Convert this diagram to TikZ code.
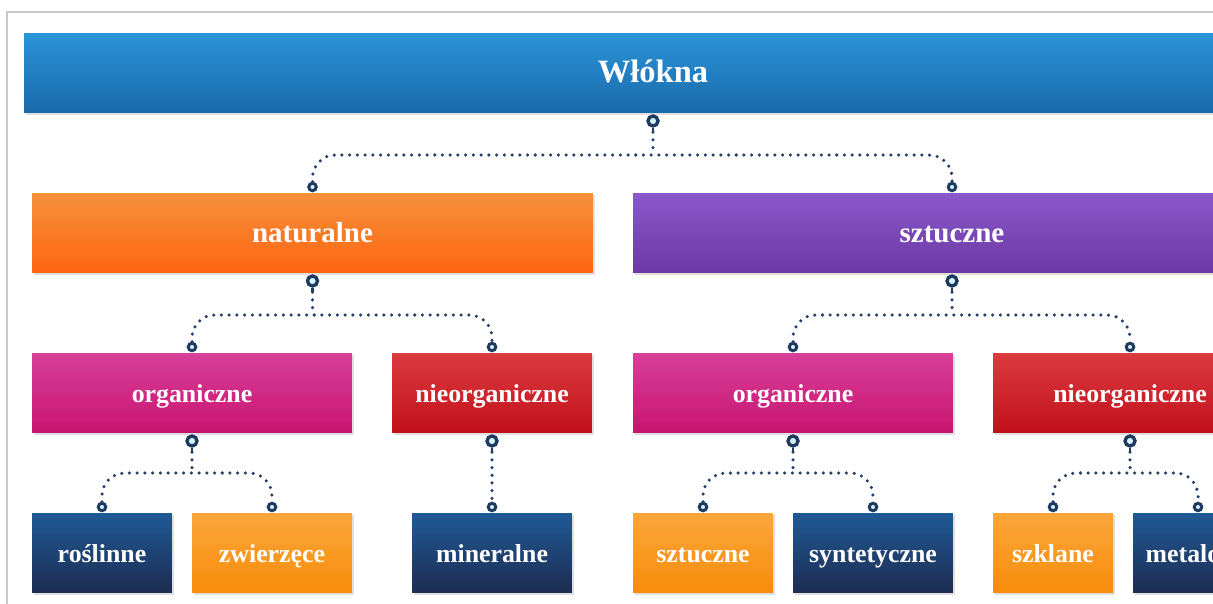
\documentclass[tikz,border=0pt]{standalone}
\usepackage{fontspec}
\setmainfont{Liberation Serif}
\usepackage{tikz}
\usetikzlibrary{shadows}

\definecolor{blueTop}{HTML}{2A94D8}
\definecolor{blueBot}{HTML}{1A6AAB}
\definecolor{orTop}{HTML}{F5913C}
\definecolor{orBot}{HTML}{FF6410}
\definecolor{puTop}{HTML}{8A58CA}
\definecolor{puBot}{HTML}{6C38A4}
\definecolor{mgTop}{HTML}{D8409A}
\definecolor{mgBot}{HTML}{C8146F}
\definecolor{rdTop}{HTML}{DA3C40}
\definecolor{rdBot}{HTML}{C2101A}
\definecolor{nvTop}{HTML}{1F5A96}
\definecolor{nvBot}{HTML}{1E2C50}
\definecolor{ylTop}{HTML}{FBA63C}
\definecolor{ylBot}{HTML}{F78C0A}
\definecolor{ringLine}{HTML}{1E3A5F}
\definecolor{ringFill}{HTML}{D4F4FA}
\definecolor{dotLine}{HTML}{26406A}
\definecolor{frameGray}{HTML}{C8C8C8}

\begin{document}
\begin{tikzpicture}[x=0.02cm, y=-0.02cm,
    box/.style={rectangle, inner sep=0pt, minimum height=1.6cm, text=white, font=\bfseries,
        text height=2.4ex, text depth=0pt,
        drop shadow={shadow xshift=1.2pt, shadow yshift=-1.2pt, opacity=0.25}},
    toplvl/.style={font=\bfseries\fontsize{18.5}{20}\selectfont},
    midlvl/.style={font=\bfseries\fontsize{16.5}{19}\selectfont},
    lowlvl/.style={font=\bfseries\fontsize{14.7}{16}\selectfont},
    blueb/.style={top color=blueTop, bottom color=blueBot},
    orangeb/.style={top color=orTop, bottom color=orBot},
    purpleb/.style={top color=puTop, bottom color=puBot},
    magentab/.style={top color=mgTop, bottom color=mgBot},
    redb/.style={top color=rdTop, bottom color=rdBot},
    navyb/.style={top color=nvTop, bottom color=nvBot},
    yellowb/.style={top color=ylTop, bottom color=ylBot},
    ringin/.style={circle, draw=ringLine, fill=ringFill, line width=1.7pt, inner sep=0pt, minimum size=0.15cm},
    ringout/.style={circle, draw=ringLine, fill=ringFill, line width=1.9pt, inner sep=0pt, minimum size=0.2cm},
    tail/.style={draw=ringLine, line width=1.6pt},
    dotted line/.style={draw=dotLine, line width=2pt, line cap=round, dash pattern=on 0pt off 4.4pt},
    elbow/.style={dotted line, rounded corners=13pt}]

    \clip (0,0) rectangle (1213,604);
    \draw[frameGray, line width=0.6pt] (7,604) -- (7,12) -- (1213,12);

    % boxes
    \node[box, blueb, toplvl, minimum width=25.16cm] (wl) at (653,73) {Włókna};

    \node[box, orangeb, midlvl, minimum width=11.22cm] (nat) at (312.5,233) {naturalne};
    \node[box, purpleb, midlvl, minimum width=12.76cm] (szt) at (952,233) {sztuczne};

    \node[box, magentab, lowlvl, minimum width=6.4cm] (org1) at (192,393) {organiczne};
    \node[box, redb, lowlvl, minimum width=4cm] (nie1) at (492,393) {nieorganiczne};
    \node[box, magentab, lowlvl, minimum width=6.4cm] (org2) at (793,393) {organiczne};
    \node[box, redb, lowlvl, minimum width=5.48cm] (nie2) at (1130,393) {nieorganiczne};

    \node[box, navyb, lowlvl, minimum width=2.8cm] (ros) at (102,553) {roślinne};
    \node[box, yellowb, lowlvl, minimum width=3.2cm] (zwi) at (272,553) {zwierzęce};
    \node[box, navyb, lowlvl, minimum width=3.2cm] (min) at (492,553) {mineralne};
    \node[box, yellowb, lowlvl, minimum width=2.8cm] (szt4) at (703,553) {sztuczne};
    \node[box, navyb, lowlvl, minimum width=3.2cm] (syn) at (873,553) {syntetyczne};
    \node[box, yellowb, lowlvl, minimum width=2.4cm] (szk) at (1053,553) {szklane};
    \node[box, navyb, lowlvl, minimum width=2.6cm] (met) at (1198,553) {metalowe};

    % levels of the dotted lines
    \coordinate (lv1) at (0,155);
    \coordinate (lv2) at (0,315);
    \coordinate (lv3) at (0,473);

    % rings below the parents
    \node[ringout] (wlo) at (653,121) {};
    \node[ringout] (nato) at (312.5,281) {};
    \node[ringout] (szto) at (952,281) {};
    \node[ringout] (org1o) at (192,441) {};
    \node[ringout] (nie1o) at (492,441) {};
    \node[ringout] (org2o) at (793,441) {};
    \node[ringout] (nie2o) at (1130,441) {};

    % rings above the children
    \node[ringin] (nati) at (312.5,187) {};
    \node[ringin] (szti) at (952,187) {};
    \node[ringin] (org1i) at (192,347) {};
    \node[ringin] (nie1i) at (492,347) {};
    \node[ringin] (org2i) at (793,347) {};
    \node[ringin] (nie2i) at (1130,347) {};
    \node[ringin] (rosi) at (102,507) {};
    \node[ringin] (zwii) at (272,507) {};
    \node[ringin] (mini) at (492,507) {};
    \node[ringin] (szt4i) at (703,507) {};
    \node[ringin] (syni) at (873,507) {};
    \node[ringin] (szki) at (1053,507) {};
    \node[ringin] (meti) at (1198,507) {};

    % tails
    \foreach \r in {wlo, nato, szto, org1o, nie1o, org2o, nie2o}
        \draw[tail] (\r.south) -- ([yshift=-2.5pt]\r.south);

    % connectors
    \draw[dotted line] ([yshift=-2.5pt]wlo.south) -- (wlo |- lv1);
    \draw[elbow] (nati.north) -- (nati |- lv1) -- (szti |- lv1) -- (szti.north);

    \draw[dotted line] ([yshift=-2.5pt]nato.south) -- (nato |- lv2);
    \draw[elbow] (org1i.north) -- (org1i |- lv2) -- (nie1i |- lv2) -- (nie1i.north);
    \draw[dotted line] ([yshift=-2.5pt]szto.south) -- (szto |- lv2);
    \draw[elbow] (org2i.north) -- (org2i |- lv2) -- (nie2i |- lv2) -- (nie2i.north);

    \draw[dotted line] ([yshift=-2.5pt]org1o.south) -- (org1o |- lv3);
    \draw[elbow] (rosi.north) -- (rosi |- lv3) -- (zwii |- lv3) -- (zwii.north);
    \draw[dotted line] ([yshift=-2.5pt]nie1o.south) -- (mini.north);
    \draw[dotted line] ([yshift=-2.5pt]org2o.south) -- (org2o |- lv3);
    \draw[elbow] (szt4i.north) -- (szt4i |- lv3) -- (syni |- lv3) -- (syni.north);
    \draw[dotted line] ([yshift=-2.5pt]nie2o.south) -- (nie2o |- lv3);
    \draw[elbow] (szki.north) -- (szki |- lv3) -- (meti |- lv3) -- (meti.north);
\end{tikzpicture}
\end{document}
